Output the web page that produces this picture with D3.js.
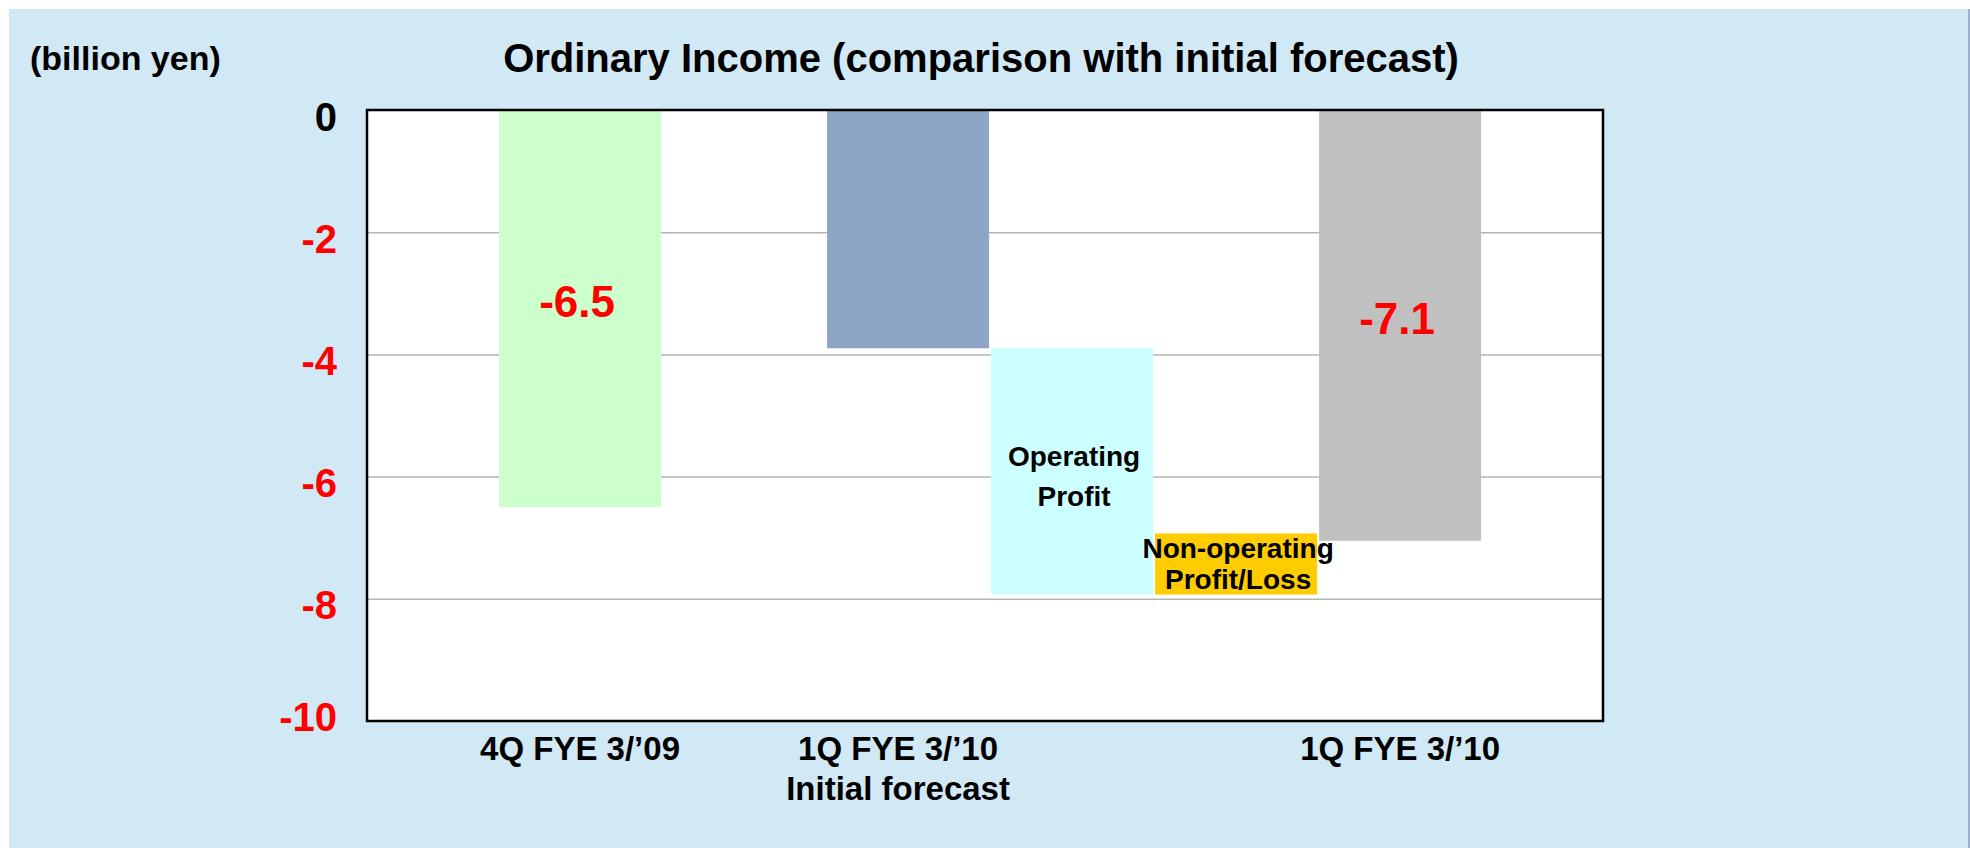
<!DOCTYPE html>
<html>
<head>
<meta charset="utf-8">
<script src="https://cdn.jsdelivr.net/npm/d3@7"></script>
<style>
  body { margin: 0; background: #ffffff; }
  svg text { font-family: "Liberation Sans", Arial, sans-serif; font-weight: bold; }
</style>
</head>
<body>
<svg id="svg1" width="1970" height="848"></svg>
<script>
// slots along the x axis, one is left empty
const slots = ["q4fy09", "empty", "q1fy10Initial", "operating", "nonOperating", "q1fy10"];
const barKeys = ["q4fy09", "q1fy10Initial", "operating", "nonOperating", "q1fy10"];
const barFrom = [0, 0, -3.9, -7.93, 0];
const barTo = [-6.5, -3.9, -7.93, -6.93, -7.05];
const barColors = ["#CCFFCC", "#8FA5C5", "#CCFFFF", "#FFCC00", "#C0C0C0"];
const valueLabels = ["-6.5", "", "", "", "-7.1"];
const innerLabels = [[], [], ["Operating", "Profit"], ["Non-operating", "Profit/Loss"], []];
const categoryLabels = [["4Q FYE 3/\u201909"], ["1Q FYE 3/\u201910", "Initial forecast"], [], [], ["1Q FYE 3/\u201910"]];
const yTicks = [0, -2, -4, -6, -8, -10];
const gridTicks = [-2, -4, -6, -8];

function init() {
    var svg = d3.select("#svg1");
    var left = 367, right = 1603, top = 110, bottom = 721;

    // light blue panel
    svg.append("rect")
        .attr("x", 9).attr("y", 9)
        .attr("width", 1961).attr("height", 850)
        .attr("fill", "#D1E8F5");
    svg.append("line")
        .attr("x1", 1969).attr("x2", 1969)
        .attr("y1", 9).attr("y2", 848)
        .attr("stroke", "#8C9FBE").attr("stroke-width", 1.5);

    svg.append("text")
        .attr("x", 981).attr("y", 72)
        .attr("text-anchor", "middle")
        .style("font-size", "40px")
        .text("Ordinary Income (comparison with initial forecast)");
    svg.append("text")
        .attr("x", 30).attr("y", 70)
        .style("font-size", "34px")
        .text("(billion yen)");

    var x = d3.scaleBand().domain(slots).range([left, right])
        .paddingInner(0.012).paddingOuter(0.774).align(0.52);
    var y = d3.scaleLinear().domain([-10, 0]).range([bottom, top]);

    svg.append("rect")
        .attr("x", left).attr("y", top)
        .attr("width", right - left).attr("height", bottom - top)
        .attr("fill", "#ffffff");

    var grid = svg.append("g")
        .attr("transform", "translate(" + left + ",0)")
        .call(d3.axisLeft(y).tickValues(gridTicks).tickSize(-(right - left)).tickFormat(""));
    grid.select(".domain").remove();
    grid.selectAll("line").attr("stroke", "#B4B4B4").attr("stroke-width", 1.5);

    var bars = barKeys.map(function(k, i) {
        return { key: k, from: barFrom[i], to: barTo[i], color: barColors[i],
                 value: valueLabels[i], inner: innerLabels[i], cat: categoryLabels[i] };
    });

    svg.selectAll("rect.bar").data(bars).enter().append("rect")
        .attr("class", "bar")
        .attr("x", d => x(d.key))
        .attr("width", x.bandwidth())
        .attr("y", d => y(Math.max(d.from, d.to)))
        .attr("height", d => Math.abs(y(d.from) - y(d.to)))
        .attr("fill", d => d.color);

    // plot frame
    svg.append("rect")
        .attr("x", left).attr("y", top)
        .attr("width", right - left).attr("height", bottom - top)
        .attr("fill", "none")
        .attr("stroke", "#000000").attr("stroke-width", 2.5);

    var yAxis = svg.append("g")
        .attr("transform", "translate(" + left + ",0)")
        .call(d3.axisLeft(y).tickValues(yTicks).tickSize(0).tickPadding(30).tickFormat(d => String(d)));
    yAxis.select(".domain").remove();
    yAxis.selectAll("text")
        .style("font-size", "40px")
        .style("font-family", "'Liberation Sans', Arial, sans-serif")
        .attr("dy", "0.5em")
        .attr("y", d => d == -10 ? -11 : 0)
        .attr("fill", d => d == 0 ? "#000000" : "#FF0000");

    // value labels
    svg.selectAll("text.value").data(bars.filter(d => d.value != "")).enter().append("text")
        .attr("class", "value")
        .attr("x", d => x(d.key) + x.bandwidth() / 2 - 3)
        .attr("y", d => y(d.to * 0.52))
        .attr("text-anchor", "middle")
        .style("font-size", "44px")
        .attr("fill", "#FF0000")
        .text(d => d.value);

    // labels inside the bridge bars
    bars.forEach(function(d) {
        if (d.inner.length == 0) return;
        var cx = x(d.key) + x.bandwidth() / 2 + 2;
        var t = svg.append("text")
            .attr("text-anchor", "middle")
            .style("font-size", "28px")
            .attr("fill", "#000000");
        var base = d.key == "operating" ? (y(d.from) + y(d.to)) / 2 - 5 : y(Math.max(d.from, d.to)) + 25;
        var step = d.key == "operating" ? 40 : 31;
        d.inner.forEach(function(line, j) {
            t.append("tspan").attr("x", cx).attr("y", base + j * step).text(line);
        });
    });

    // category labels under the axis
    bars.forEach(function(d) {
        if (d.cat.length == 0) return;
        var cx = x(d.key) + x.bandwidth() / 2 + (d.key == "q1fy10Initial" ? -10 : 0);
        var t = svg.append("text")
            .attr("text-anchor", "middle")
            .style("font-size", "33px")
            .attr("fill", "#000000");
        d.cat.forEach(function(line, j) {
            t.append("tspan").attr("x", cx).attr("y", 760 + j * 40).text(line);
        });
    });
}
init();
</script>
</body>
</html>
